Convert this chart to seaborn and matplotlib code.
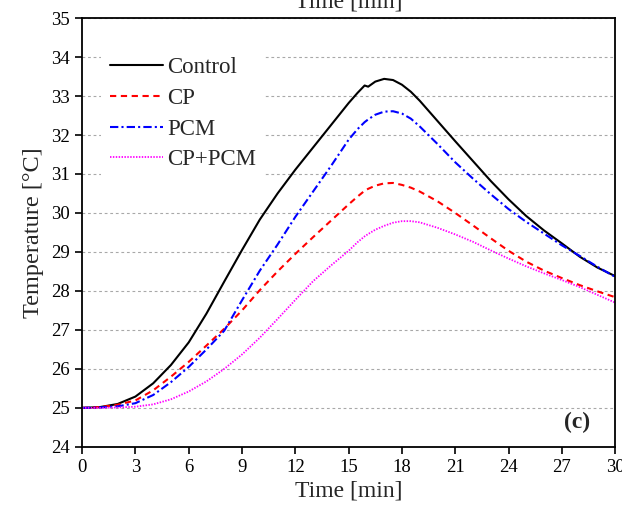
import numpy as np
import matplotlib
matplotlib.use("Agg")
import matplotlib.pyplot as plt
import seaborn as sns

# ====================== data ======================
time_min = [0, 1, 2, 3, 4, 5, 6, 7, 8, 9, 10, 11, 12, 13, 14, 15,
            15.5, 15.9, 16.1, 16.5, 17, 17.5, 18, 18.5, 19,
            20, 21, 22, 23, 24, 25, 26, 27, 28, 29, 30]

control = [25.00, 25.02, 25.10, 25.29, 25.63, 26.10, 26.68, 27.42, 28.24, 29.05,
           29.83, 30.50, 31.11, 31.68, 32.25, 32.82,
           33.08, 33.27, 33.24, 33.37, 33.44, 33.41, 33.29, 33.11, 32.88,
           32.36, 31.84, 31.33, 30.82, 30.35, 29.92, 29.55, 29.22, 28.88, 28.60, 28.38]

cp = [25.00, 25.02, 25.08, 25.19, 25.45, 25.80, 26.18, 26.60, 27.03, 27.50,
      28.02, 28.50, 28.95, 29.38, 29.80, 30.22,
      30.42, 30.57, 30.62, 30.70, 30.76, 30.77, 30.72, 30.65, 30.55,
      30.30, 30.00, 29.68, 29.35, 29.03, 28.75, 28.52, 28.33, 28.15, 27.99, 27.84]

pcm = [25.00, 25.01, 25.04, 25.12, 25.33, 25.66, 26.05, 26.50, 26.98, 27.76,
       28.52, 29.19, 29.90, 30.55, 31.20, 31.88,
       32.15, 32.33, 32.40, 32.52, 32.60, 32.61, 32.55, 32.42, 32.22,
       31.77, 31.30, 30.88, 30.48, 30.10, 29.77, 29.47, 29.17, 28.90, 28.62, 28.36]

cp_pcm = [25.00, 25.00, 25.01, 25.03, 25.09, 25.22, 25.42, 25.68, 26.00, 26.37,
          26.80, 27.28, 27.77, 28.25, 28.65, 29.03,
          29.25, 29.40, 29.46, 29.57, 29.67, 29.75, 29.79, 29.79, 29.76,
          29.62, 29.45, 29.26, 29.04, 28.83, 28.63, 28.45, 28.28, 28.10, 27.90, 27.70]

x_ticks = list(range(0, 31, 3))
y_ticks = list(range(24, 36))

# ====================== plot ======================
sns.set_style("ticks")
plt.rcParams['font.family'] = ['Liberation Serif', 'DejaVu Serif']

fig = plt.figure(figsize=(6.22, 5.16), dpi=100)
ax = fig.add_axes([0.132, 0.134, 0.857, 0.831])

sns.lineplot(x=time_min, y=control, ax=ax, color='black', lw=1.5,
             label='Control')
sns.lineplot(x=time_min, y=cp, ax=ax, color='#ff0000', lw=1.5,
             linestyle=(0, (3, 2.2)), label='CP')
sns.lineplot(x=time_min, y=pcm, ax=ax, color='#0000ff', lw=1.5,
             linestyle=(0, (4, 1.5, 1, 1.5)), label='PCM')
sns.lineplot(x=time_min, y=cp_pcm, ax=ax, color='#ff00ff', lw=1.3,
             linestyle=(0, (0.8, 0.8)), label='CP+PCM')

ax.set_xlim(0, 30)
ax.set_ylim(24, 35)
ax.set_xticks(x_ticks)
ax.set_yticks(y_ticks)
ax.yaxis.grid(True, color='#a8a8a8', linestyle=(0, (2.5, 2.5)), lw=0.8)
ax.xaxis.grid(False)
ax.set_axisbelow(True)

for s in ax.spines.values():
    s.set_visible(True)
    s.set_linewidth(1.3)
    s.set_color('black')
ax.tick_params(direction='out', length=5, width=1.2, labelsize=13.5,
               colors='black', pad=4)

ax.set_xlabel('Time [min]', fontsize=17, labelpad=3)
ax.set_ylabel('Temperature [°C]', fontsize=17.5, labelpad=5)

leg = ax.legend(loc='upper left', bbox_to_anchor=(0.035, 0.93),
                borderaxespad=0, fontsize=16.5, handlelength=2.3,
                handletextpad=0.2, labelspacing=0.42, borderpad=0.4,
                frameon=True, fancybox=False, framealpha=1,
                facecolor='white', edgecolor='none')

ax.text(27.85, 24.62, '(c)', fontsize=17, fontweight='bold',
        ha='center', va='center')

# leftover label of the panel above, cut off by the crop
fig.text(0.56, 0.986, 'Time [min]', fontsize=17, ha='center', va='baseline')

fig.savefig('out.png', dpi=100)
